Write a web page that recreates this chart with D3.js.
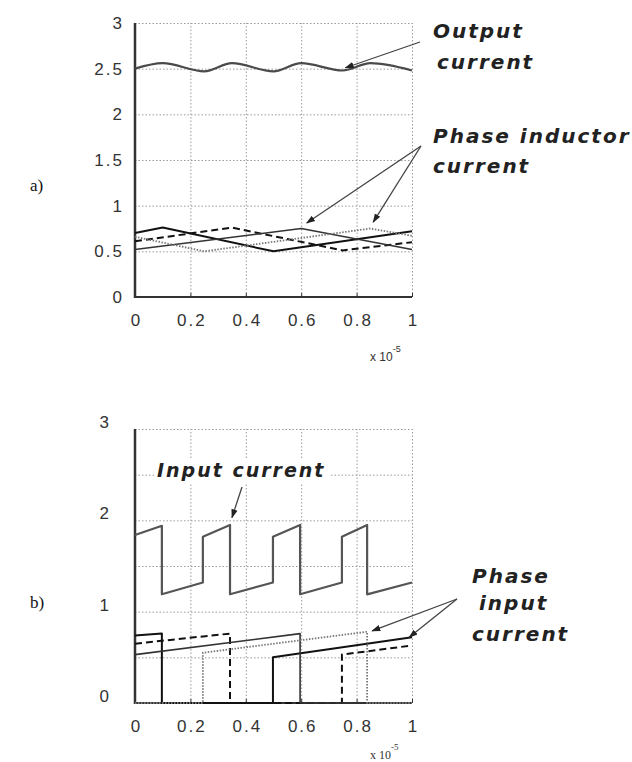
<!DOCTYPE html>
<html>
<head>
<meta charset="utf-8">
<script src="https://cdn.jsdelivr.net/npm/d3@7"></script>
<style>
  body { margin: 0; background: #fff; }
  .lbl { font-family: "Liberation Sans", Arial, sans-serif; font-size: 17px; fill: #333; letter-spacing: 2px; }
  .note { font-family: "DejaVu Sans", sans-serif; font-weight: bold; font-style: italic; font-size: 20px; fill: #222; letter-spacing: 2px; }
  .panel { font-family: "Liberation Serif", "Times New Roman", serif; font-size: 17px; fill: #111; }
</style>
</head>
<body>
<svg id="chart" width="632" height="762"></svg>
<script>
// time axis in units of 1e-5 s, currents in A
const xTicks = [0, 0.2, 0.4, 0.6, 0.8, 1];
const yTicksA = [0, 0.5, 1, 1.5, 2, 2.5, 3];
const yGridB = [0, 0.5, 1, 1.5, 2, 2.5, 3];
const yTicksB = [0, 1, 2, 3];

// a) output current and the four phase inductor currents
const outT = [0, 0.1, 0.25, 0.35, 0.5, 0.6, 0.75, 0.85, 1];
const outI = [2.50, 2.56, 2.47, 2.56, 2.47, 2.56, 2.48, 2.56, 2.48];

const ind1T = [0, 0.1, 0.5, 1];
const ind1I = [0.70, 0.76, 0.50, 0.72];
const ind2T = [0, 0.35, 0.75, 1];
const ind2I = [0.61, 0.76, 0.51, 0.60];
const ind3T = [0, 0.6, 1];
const ind3I = [0.52, 0.75, 0.52];
const ind4T = [0, 0.25, 0.85, 1];
const ind4I = [0.66, 0.50, 0.75, 0.67];

// b) input current and the four phase input currents
const inT = [0, 0.097, 0.097, 0.245, 0.245, 0.343, 0.343, 0.498, 0.498, 0.596, 0.596, 0.747, 0.747, 0.838, 0.838, 1];
const inI = [1.84, 1.94, 1.19, 1.32, 1.82, 1.95, 1.19, 1.32, 1.82, 1.95, 1.19, 1.32, 1.82, 1.95, 1.19, 1.32];

const pin1T = [0, 0.097, 0.097, 0.498, 0.498, 1];
const pin1I = [0.74, 0.76, 0, 0, 0.50, 0.72];
const pin2T = [0, 0.343, 0.343, 0.747, 0.747, 1];
const pin2I = [0.65, 0.76, 0, 0, 0.53, 0.63];
const pin3T = [0, 0, 0.596, 0.596, 1];
const pin3I = [0, 0.53, 0.76, 0, 0];
const pin4T = [0, 0.245, 0.245, 0.838, 0.838, 1];
const pin4I = [0, 0, 0.55, 0.78, 0, 0];

const phaseStyle = [
  {stroke: "#111", width: 2, dash: null},
  {stroke: "#111", width: 2, dash: "7,4"},
  {stroke: "#333", width: 1.6, dash: null},
  {stroke: "#777", width: 1.8, dash: "1.5,1.5"}
];

const svg = d3.select("#chart");

svg.append("defs").append("marker")
    .attr("id", "arr")
    .attr("viewBox", "0 0 10 10")
    .attr("refX", 9).attr("refY", 5)
    .attr("markerWidth", 7).attr("markerHeight", 7)
    .attr("orient", "auto")
  .append("path")
    .attr("d", "M0,1.5L10,5L0,8.5z")
    .attr("fill", "#222");

const x = d3.scaleLinear().domain([0, 1]).range([135, 412]);
const yA = d3.scaleLinear().domain([0, 3]).range([297, 23]);
const yB = d3.scaleLinear().domain([0, 3]).range([703, 429]);

function frame(y, yGrid, yLabels, pad, shiftUp) {
    let g = svg.append("g");

    // dotted grid
    g.append("g")
        .attr("transform", `translate(0,${y(0)})`)
        .call(d3.axisBottom(x).tickValues(xTicks).tickSize(-(y(0) - y(3))).tickFormat(""))
        .call(a => a.select(".domain").remove())
        .selectAll("line")
        .attr("stroke", "#9a9a9a").attr("stroke-dasharray", "1.5,2");

    g.append("g")
        .attr("transform", `translate(${x(0)},0)`)
        .call(d3.axisLeft(y).tickValues(yGrid).tickSize(-(x(1) - x(0))).tickFormat(""))
        .call(a => a.select(".domain").remove())
        .selectAll("line")
        .attr("stroke", "#9a9a9a").attr("stroke-dasharray", "1.5,2");

    // small inward ticks on the bottom axis
    g.append("g")
        .attr("transform", `translate(0,${y(0)})`)
        .call(d3.axisBottom(x).tickValues(xTicks).tickSize(-4).tickFormat(""))
        .call(a => a.select(".domain").remove())
        .selectAll("line").attr("stroke", "#333");

    // solid left and bottom axes
    g.append("line")
        .attr("x1", x(0)).attr("x2", x(0)).attr("y1", y(0) + 1).attr("y2", y(3))
        .attr("stroke", "#333").attr("stroke-width", 2.5);
    g.append("line")
        .attr("x1", x(0)).attr("x2", x(1)).attr("y1", y(0)).attr("y2", y(0))
        .attr("stroke", "#333").attr("stroke-width", 2);

    // tick labels
    g.append("g")
        .attr("transform", `translate(0,${y(0)})`)
        .call(d3.axisBottom(x).tickValues(xTicks).tickSize(0).tickPadding(17).tickFormat(d => String(d)))
        .call(a => a.select(".domain").remove())
        .selectAll("text").attr("class", "lbl").attr("dx", "1px");

    g.append("g")
        .attr("transform", `translate(${x(0)},${-shiftUp})`)
        .call(d3.axisLeft(y).tickValues(yLabels).tickSize(0).tickPadding(pad).tickFormat(d => String(d)))
        .call(a => a.select(".domain").remove())
        .selectAll("text").attr("class", "lbl");

    return g;
}

function trace(y, ts, vs, st, curve) {
    let line = d3.line()
        .x(d => x(d[0]))
        .y(d => y(d[1]))
        .curve(curve || d3.curveLinear);
    svg.append("path")
        .datum(d3.zip(ts, vs))
        .attr("d", line)
        .attr("fill", "none")
        .attr("stroke", st.stroke)
        .attr("stroke-width", st.width)
        .attr("stroke-dasharray", st.dash)
        .attr("stroke-linejoin", "round");
}

function pointer(x1, y1, x2, y2) {
    svg.append("line")
        .attr("x1", x1).attr("y1", y1).attr("x2", x2).attr("y2", y2)
        .attr("stroke", "#444").attr("stroke-width", 1.3)
        .attr("marker-end", "url(#arr)");
}

// ---------- panel a ----------
frame(yA, yTicksA, yTicksA, 11, 0);

[[ind1T, ind1I], [ind2T, ind2I], [ind3T, ind3I], [ind4T, ind4I]].forEach((s, i) => {
    trace(yA, s[0], s[1], phaseStyle[i]);
});
trace(yA, outT, outI, {stroke: "#4a4a4a", width: 2.2, dash: null}, d3.curveMonotoneX);

svg.append("text").attr("class", "note").attr("x", 433).attr("y", 38).text("Output");
svg.append("text").attr("class", "note").attr("x", 437).attr("y", 69).text("current");
pointer(420, 42, x(0.76), yA(2.51));

svg.append("text").attr("class", "note").attr("x", 433).attr("y", 143).text("Phase inductor");
svg.append("text").attr("class", "note").attr("x", 433).attr("y", 173).text("current");
pointer(421, 146, x(0.62), yA(0.81));
pointer(421, 146, x(0.86), yA(0.82));

svg.append("text").attr("class", "panel").attr("x", 30).attr("y", 191).text("a)");

svg.append("text")
    .attr("font-family", "Liberation Sans, Arial, sans-serif").attr("font-size", 12).attr("fill", "#333")
    .attr("x", 370).attr("y", 361)
    .text("x 10")
  .append("tspan").attr("font-size", 9).attr("dy", -9).text("-5");

// ---------- panel b ----------
frame(yB, yGridB, yTicksB, 24, 7);

[[pin1T, pin1I], [pin2T, pin2I], [pin3T, pin3I], [pin4T, pin4I]].forEach((s, i) => {
    trace(yB, s[0], s[1], phaseStyle[i]);
});
trace(yB, inT, inI, {stroke: "#555", width: 2.2, dash: null});

svg.append("rect").attr("x", 155).attr("y", 460).attr("width", 176).attr("height", 24).attr("fill", "#fff");
svg.append("text").attr("class", "note").attr("x", 157).attr("y", 477)
    .style("font-size", "19px").text("Input current");
pointer(242, 487, x(0.35), yB(2.03));

svg.append("text").attr("class", "note").attr("x", 472).attr("y", 583).text("Phase");
svg.append("text").attr("class", "note").attr("x", 479).attr("y", 610).text("input");
svg.append("text").attr("class", "note").attr("x", 472).attr("y", 641).text("current");
pointer(457, 599, x(0.856), yB(0.79));
pointer(457, 599, x(0.99), yB(0.72));

svg.append("text").attr("class", "panel").attr("x", 30).attr("y", 608).text("b)");

svg.append("text")
    .attr("font-family", "Liberation Serif, Times New Roman, serif").attr("font-size", 12).attr("fill", "#333")
    .attr("x", 370).attr("y", 759)
    .text("x 10")
  .append("tspan").attr("font-size", 9).attr("dy", -9).text("-5");
</script>
</body>
</html>
